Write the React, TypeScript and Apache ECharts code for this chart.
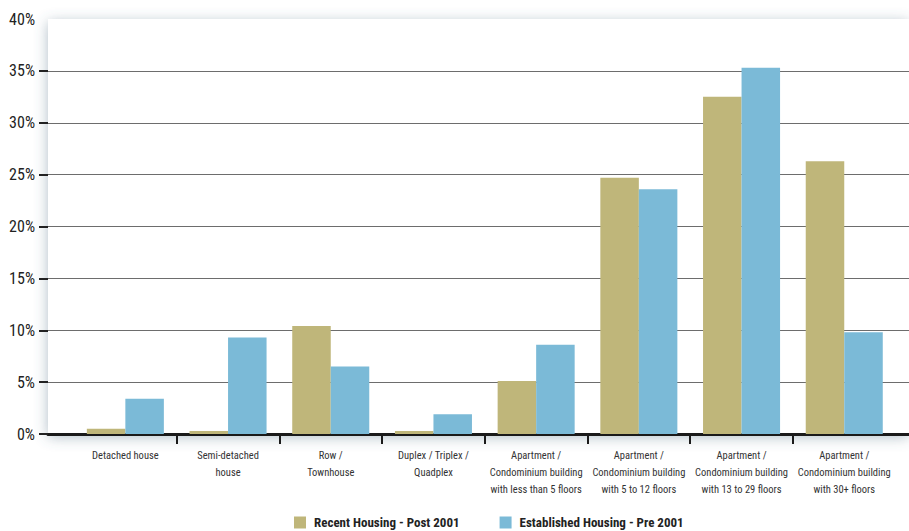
import React, { useEffect, useRef } from "react";
import * as echarts from "echarts";

const categories = [
  "Detached house",
  "Semi-detached\nhouse",
  "Row /\nTownhouse",
  "Duplex / Triplex /\nQuadplex",
  "Apartment /\nCondominium building\nwith less than 5 floors",
  "Apartment /\nCondominium building\nwith 5 to 12 floors",
  "Apartment /\nCondominium building\nwith 13 to 29 floors",
  "Apartment /\nCondominium building\nwith 30+ floors",
];
const recentHousing = [0.5, 0.3, 10.4, 0.3, 5.1, 24.7, 32.5, 26.3];
const establishedHousing = [3.4, 9.3, 6.5, 1.9, 8.6, 23.6, 35.3, 9.8];
const seriesNames = ["Recent Housing - Post 2001", "Established Housing - Pre 2001"];

const FONT = "'Roboto Condensed', 'DejaVu Sans Condensed', sans-serif";

export default function App() {
  const ref = useRef<HTMLDivElement>(null);
  useEffect(() => {
    if (!ref.current) return;
    const chart = echarts.init(ref.current, null, { renderer: "svg" });
    const top = 19;
    const bottom = 97;
    const plotH = 531 - top - bottom;
    const catLeft = 74;
    const catRight = 13.4;
    const catW = (909 - catLeft - catRight) / categories.length;
    chart.setOption({
      animation: false,
      backgroundColor: "#ffffff",
      grid: [
        {
          left: 48, right: 0, top, bottom,
          show: true, backgroundColor: "#ffffff", borderWidth: 0,
          shadowColor: "rgba(80,110,130,0.45)", shadowBlur: 14, shadowOffsetY: 3,
        },
        { left: catLeft, right: catRight, top, bottom },
        { left: catLeft + catW, right: catRight + catW, top, bottom },
        { left: 48, right: 0, top: top + (plotH * 5) / 40, bottom },
      ],
      xAxis: [
        {
          gridIndex: 0, type: "value", min: 0, max: 1, offset: 1,
          axisLine: { show: true, lineStyle: { color: "#1a1a1a", width: 3 } },
          axisTick: { show: false }, axisLabel: { show: false }, splitLine: { show: false },
        },
        {
          gridIndex: 1, type: "category", data: categories,
          axisLine: { show: false }, axisTick: { show: false }, splitLine: { show: false },
          axisLabel: {
            interval: 0, margin: 13, fontSize: 10.5, lineHeight: 17,
            color: "#333333", fontFamily: FONT,
          },
        },
        {
          gridIndex: 2, type: "value", min: 1, max: 7, interval: 1, offset: 2,
          axisLine: { show: false }, axisLabel: { show: false }, splitLine: { show: false },
          axisTick: { show: true, length: 10, lineStyle: { color: "#1a1a1a", width: 2 } },
        },
        { gridIndex: 3, type: "value", show: false },
      ],
      yAxis: [
        {
          gridIndex: 0, type: "value", min: 0, max: 40, interval: 5,
          axisLine: { show: false }, axisTick: { show: false },
          axisLabel: {
            formatter: "{value}%", margin: 13, fontSize: 16, color: "#222222", fontFamily: FONT,
          },
          splitLine: { show: true, showMaxLine: false, lineStyle: { color: "#6d6d6d", width: 1 } },
        },
        { gridIndex: 1, type: "value", min: 0, max: 40, show: false },
        { gridIndex: 2, type: "value", show: false },
        {
          gridIndex: 3, type: "value", min: 0, max: 35, interval: 5,
          axisLine: { show: false }, axisLabel: { show: false }, splitLine: { show: false },
          axisTick: { show: true, length: 9, lineStyle: { color: "#222222", width: 2 } },
        },
      ],
      legend: {
        left: 294, top: 516, padding: 0,
        icon: "rect", itemWidth: 12, itemHeight: 12, itemGap: 40,
        textStyle: { fontSize: 13, fontWeight: "bold", color: "#222222", fontFamily: FONT, padding: [0, 0, 0, 3] },
        data: seriesNames,
      },
      series: [
        {
          name: seriesNames[0], type: "bar", xAxisIndex: 1, yAxisIndex: 1,
          data: recentHousing, itemStyle: { color: "#bfb67a" },
          barGap: "0%", barCategoryGap: "25%",
        },
        {
          name: seriesNames[1], type: "bar", xAxisIndex: 1, yAxisIndex: 1,
          data: establishedHousing, itemStyle: { color: "#7bbad7" },
          barGap: "0%", barCategoryGap: "25%",
        },
      ],
    });
    return () => chart.dispose();
  }, []);
  return (
    <div
      ref={ref}
      style={{ position: "fixed", left: 0, top: 0, width: 909, height: 531, background: "#fff" }}
    />
  );
}
